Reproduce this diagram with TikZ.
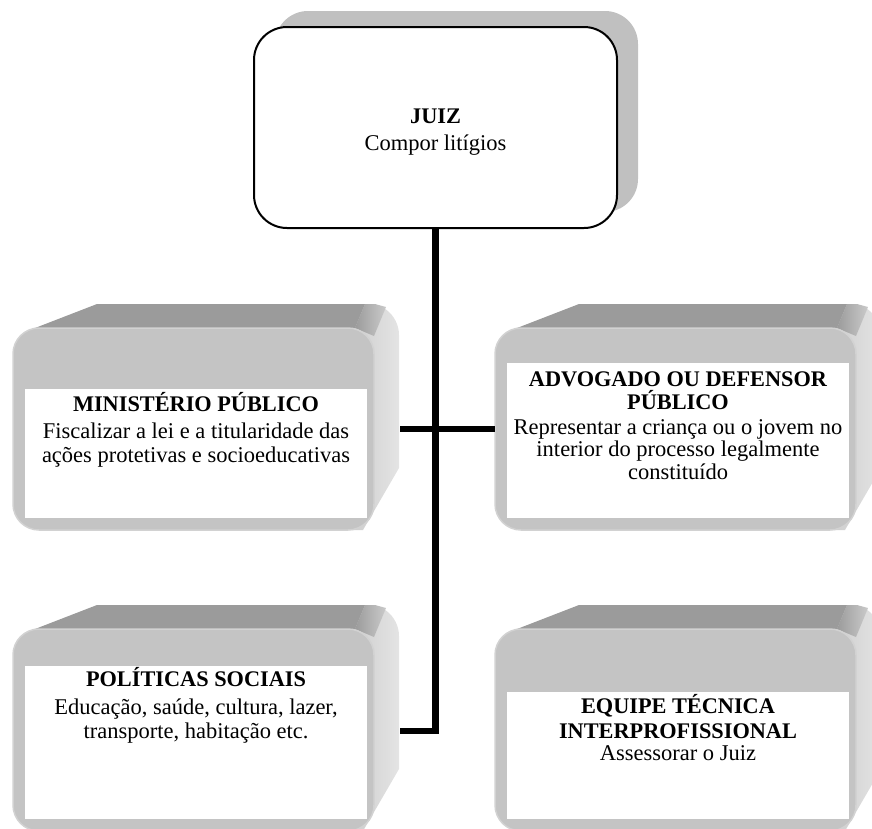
\documentclass[tikz,border=0pt]{standalone}
\usepackage{fontspec}
\setmainfont{Liberation Serif}
\usetikzlibrary{shadows}
\definecolor{topc}{HTML}{9B9B9B}
\definecolor{frontc}{HTML}{C4C4C4}
\definecolor{rimc}{HTML}{D2D2D2}
\definecolor{sideA}{HTML}{CACACA}
\definecolor{sideB}{HTML}{E4E4E4}
\definecolor{shadowc}{HTML}{C0C0C0}
\tikzset{
  conn/.style={line width=6.5pt, line join=miter, line cap=butt, draw=black},
  juizbox/.style={draw=black, line width=2pt, fill=white, rounded corners=33pt,
    minimum width=363pt, minimum height=201pt, inner sep=0pt,
    general shadow={fill=shadowc, shadow xshift=21pt, shadow yshift=16pt}},
  lbl/.style={anchor=base, inner sep=0pt, font=\fontsize{22.5}{25}\selectfont},
  lblb/.style={lbl, font=\fontsize{22.3}{25}\selectfont\bfseries}
}
\newcommand{\bevelbox}[3]{%
\begin{scope}[shift={(#1,#2)}]
 % side face with rounded back corner
 \shade[left color=sideA, right color=sideB] (330,0) -- (357,0) .. controls (372,0) and (386,14) .. (386,31) -- (386,164) -- (350,226) -- (330,226) -- cycle;
 % top face
 \fill[topc] (22,24) -- (84,0) -- (352,0) -- (342,24) -- cycle;
 % bevel transition at the top right corner
 \shade[left color=topc, right color=sideA] (342,24) -- (352,0) -- (362,0) -- (373,3) -- (361,32) -- cycle;
 % front face
 \filldraw[fill=frontc, draw=rimc, line width=1.5pt, rounded corners=26pt] (0,24) rectangle (361,226);
 \fill[white] (12,#3) rectangle (354,214);
\end{scope}}
\begin{document}
\begin{tikzpicture}[x=1pt,y=-1pt]
\useasboundingbox (0,0) rectangle (872,828);
\clip (0,0) rectangle (872,828);
% top box
\node[juizbox] (juiz) at (435.5,127.5) {};
\node[lblb] (juizT1) at (435.5,123) {JUIZ};
\node[lbl] (juizT2) at (435.5,150) {Compor litígios};
% side boxes
\bevelbox{13}{304}{85}
\bevelbox{495}{304}{59}
\bevelbox{13}{605}{61}
\bevelbox{495}{605}{87}
% texts
\node[lblb] (mp1) at (196,411.5) {MINISTÉRIO PÚBLICO};
\node[lbl] (mp2) at (196,438) {Fiscalizar a lei e a titularidade das};
\node[lbl] (mp3) at (196,462) {ações protetivas e socioeducativas};
\node[lblb] (ad1) at (678,386.5) {ADVOGADO OU DEFENSOR};
\node[lblb] (ad2) at (678,409.5) {PÚBLICO};
\node[lbl] (ad3) at (678,434) {Representar a criança ou o jovem no};
\node[lbl] (ad4) at (678,456.5) {interior do processo legalmente};
\node[lbl] (ad5) at (678,479) {constituído};
\node[lblb] (ps1) at (196,686.5) {POLÍTICAS SOCIAIS};
\node[lbl] (ps2) at (196,714) {Educação, saúde, cultura, lazer,};
\node[lbl] (ps3) at (196,738) {transporte, habitação etc.};
\node[lblb] (eq1) at (678,713.5) {EQUIPE TÉCNICA};
\node[lblb] (eq2) at (678,738) {INTERPROFISSIONAL};
\node[lbl] (eq3) at (678,760) {Assessorar o Juiz};
% connector end points on box edges
\coordinate (mpE) at (400,429);
\coordinate (adW) at (495,429);
\coordinate (psE) at (400,731);
\draw[conn] (mpE) -- (adW);
\draw[conn] (juiz.south) |- (psE);
\end{tikzpicture}
\end{document}
